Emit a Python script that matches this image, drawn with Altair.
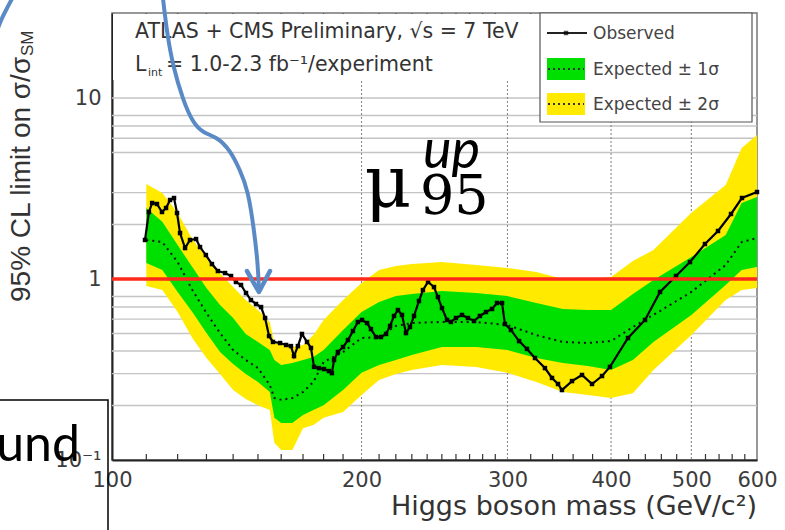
import altair as alt
import pandas as pd

# ---------------- data ----------------
# Observed 95% CL upper limit on sigma/sigma_SM versus Higgs mass (GeV)
OBS_MASS = [109.6, 110.8, 111.8, 113.3, 114.9, 116.2, 117.5, 118.8, 119.8, 120.8,
            122.5, 124.2, 126.3, 127.7, 129.8, 132.0, 134.2, 136.9, 139.2, 141.1,
            143.1, 145.1, 147.1, 149.2, 151.3, 153.0, 154.7, 156.4, 159.5, 162.2,
            164.4, 165.8, 167.6, 169.5, 171.9, 173.8, 175.3, 177.7, 180.2, 182.7,
            184.2, 185.3, 187.3, 190.0, 192.6, 195.3, 198.0, 200.3, 203.1, 205.3,
            208.2, 211.1, 214.1, 216.5, 218.9, 221.3, 223.8, 226.3, 228.8, 231.4,
            234.6, 237.2, 240.6, 244.6, 247.3, 250.1, 253.6, 256.4, 260.0, 264.4,
            268.8, 273.4, 277.9, 282.6, 287.4, 291.4, 295.5, 297.9, 302.9, 309.8,
            316.7, 323.8, 332.9, 339.5, 345.2, 349.0, 358.9, 369.0, 379.4, 390.1,
            398.8, 419.3, 439.6, 458.3, 479.1, 498.1, 519.2, 538.4, 558.2, 575.5, 600.0]
OBS_LIMIT = [1.643, 2.346, 2.630, 2.597, 2.346, 2.468, 2.733, 2.803, 2.316, 1.795,
             1.483, 1.643, 1.663, 1.502, 1.357, 1.210, 1.107, 1.079, 1.039, 0.963,
             0.927, 0.837, 0.765, 0.728, 0.700, 0.609, 0.484, 0.449, 0.443, 0.432,
             0.426, 0.375, 0.426, 0.497, 0.449, 0.416, 0.327, 0.322, 0.318, 0.310,
             0.302, 0.357, 0.395, 0.421, 0.460, 0.516, 0.579, 0.594, 0.571, 0.529,
             0.478, 0.478, 0.497, 0.550, 0.625, 0.674, 0.633, 0.503, 0.543, 0.625,
             0.756, 0.869, 0.963, 0.903, 0.795, 0.691, 0.594, 0.579, 0.609, 0.633,
             0.609, 0.586, 0.625, 0.657, 0.683, 0.737, 0.737, 0.564, 0.523, 0.454,
             0.411, 0.366, 0.322, 0.284, 0.263, 0.2435, 0.273, 0.295, 0.263, 0.291,
             0.327, 0.472, 0.594, 0.848, 1.039, 1.241, 1.561, 1.842, 2.287, 2.803, 3.025]

# Expected limit (median) with 1 sigma / 2 sigma bands
EXP_MASS = [110, 115, 120, 125, 130, 135, 140, 145, 150, 155, 157, 160, 165, 170,
            175, 180, 190, 200, 210, 220, 230, 250, 275, 300, 325, 350, 375, 400,
            425, 450, 500, 550, 575, 600]
EXP_MEDIAN = [1.64, 1.60, 1.24, 0.87, 0.649, 0.503, 0.405, 0.357, 0.322, 0.260, 0.220,
              0.215, 0.220, 0.2375, 0.270, 0.348, 0.395, 0.472, 0.478, 0.550, 0.571,
              0.579, 0.579, 0.557, 0.490, 0.449, 0.443, 0.454, 0.543, 0.633, 0.848,
              1.195, 1.60, 1.685]
EXP_1S_HI = [2.47, 2.07, 1.54, 1.165, 0.892, 0.718, 0.609, 0.497, 0.449, 0.405, 0.357,
             0.335, 0.343, 0.357, 0.371, 0.405, 0.523, 0.657, 0.746, 0.805, 0.826,
             0.858, 0.837, 0.805, 0.737, 0.683, 0.674, 0.674, 0.826, 0.987, 1.323,
             1.75, 2.63, 2.84]
EXP_1S_LO = [1.226, 1.121, 0.848, 0.657, 0.503, 0.395, 0.339, 0.299, 0.270, 0.2375, 0.171,
             0.160, 0.160, 0.177, 0.189, 0.201, 0.244, 0.303, 0.335, 0.357, 0.380,
             0.421, 0.421, 0.405, 0.366, 0.343, 0.331, 0.314, 0.357, 0.449, 0.633,
             0.927, 1.12, 1.165]
EXP_2S_HI = [3.35, 2.99, 2.32, 1.66, 1.32, 1.08, 0.903, 0.765, 0.674, 0.579, 0.443,
             0.432, 0.421, 0.432, 0.490, 0.594, 0.765, 0.950, 1.121, 1.18, 1.21,
             1.24, 1.195, 1.15, 1.093, 1.0, 1.0, 1.026, 1.257, 1.446, 2.32,
             3.31, 5.29, 6.25]
EXP_2S_LO = [0.915, 0.869, 0.657, 0.472, 0.366, 0.299, 0.244, 0.217, 0.201, 0.189, 0.124,
             0.1136, 0.1136, 0.150, 0.156, 0.171, 0.184, 0.229, 0.277, 0.299, 0.314,
             0.335, 0.326, 0.303, 0.270, 0.2375, 0.229, 0.220, 0.234, 0.314, 0.490,
             0.765, 0.869, 0.892]

# Axis furniture
X_LABELS = [100, 200, 300, 400, 500, 600]
Y_LABELS = [0.1, 1, 10]
GRID_X = [200, 300, 400, 500]
GRID_Y = [0.2, 0.3, 0.4, 0.5, 0.6, 0.7, 0.8, 1, 2, 3, 5, 6, 7, 8, 10]
MINOR_X = [110, 120, 130, 140, 150, 160, 170, 180, 190, 210, 220, 230, 240, 250, 260,
           270, 280, 290, 320, 340, 360, 380, 420, 440, 460, 480, 520, 540, 560, 580]

# Hand-drawn callout arrow (in mass / limit units)
ARROW_MASS = [115.2, 116.5, 118.5, 121.8, 125.2, 128.8, 133.9, 138.8, 142.7, 145.9,
              148.4, 150.0, 150.4]
ARROW_LIMIT = [35.7, 22.9, 14.84, 9.75, 7.28, 6.41, 6.09, 5.16, 4.00, 3.10,
               1.866, 1.195, 0.869]
HEAD_MASS = [145.5, 150.4, 155.1]
HEAD_LIMIT = [1.107, 0.848, 1.107]
CURL_MASS = [75.9, 74.6, 73.6, 72.9]
CURL_LIMIT = [36.0, 31.0, 27.5, 24.5]

# ---------------- layout ----------------
W, H = 645, 447
LEFT, TOP = 112, 13
YELLOW = "#ffea00"
GREEN = "#00e000"
RED = "#ff2a1a"
BLUE = "#5a8ac6"
INK = "#3c3c3c"
SANS = "DejaVu Sans"

xs = alt.Scale(type="log", domain=[100, 600], nice=False)
ys = alt.Scale(type="log", domain=[0.1, 29.5], nice=False)

x_axis = alt.Axis(values=X_LABELS, format="d", title=None, ticks=False, grid=False,
                  labelFont=SANS, labelFontSize=21, labelColor=INK, labelPadding=9,
                  domainColor="#222", domainWidth=2, labelFlush=False)
y_axis = alt.Axis(values=Y_LABELS, title=None, ticks=False, grid=False,
                  labelExpr="datum.value == 0.1 ? '10\u207b\u00b9' : format(datum.value, 'd')",
                  labelFont=SANS, labelFontSize=21, labelColor=INK, labelPadding=11,
                  domainColor="#222", domainWidth=2, labelFlush=False)


def X(field):
    return alt.X(field, type="quantitative", scale=xs, axis=x_axis)


def Y(field):
    return alt.Y(field, type="quantitative", scale=ys, axis=y_axis)


one = pd.DataFrame({"k": [0]})


def px(v):
    return v - LEFT


def py(v):
    return v - TOP


def box(x0, y0, x1, y1, **kw):
    return alt.Chart(one).mark_rect(**kw).encode(
        x=alt.value(px(x0)), x2=alt.value(px(x1)),
        y=alt.value(py(y0)), y2=alt.value(py(y1)))


def hline(x0, x1, y, **kw):
    return alt.Chart(one).mark_rule(**kw).encode(
        x=alt.value(px(x0)), x2=alt.value(px(x1)), y=alt.value(py(y)))


def text(txt, x, y, **kw):
    return alt.Chart(one).mark_text(**kw).encode(
        x=alt.value(px(x)), y=alt.value(py(y)), text=alt.value(txt))


bands = pd.DataFrame({
    "mass": EXP_MASS, "median": EXP_MEDIAN,
    "lo1": EXP_1S_LO, "hi1": EXP_1S_HI, "lo2": EXP_2S_LO, "hi2": EXP_2S_HI,
})
obs = pd.DataFrame({"mass": OBS_MASS, "limit": OBS_LIMIT})

grid_h = alt.Chart(pd.DataFrame({"v": GRID_Y})).mark_rule(
    color="#c4c4c4", strokeWidth=1.4).encode(y=Y("v"))
grid_v = alt.Chart(pd.DataFrame({"v": GRID_X})).mark_rule(
    color="#8a8a8a", strokeWidth=1.1, strokeDash=[2, 2]).encode(x=X("v"))

band2 = alt.Chart(bands).mark_area(color=YELLOW, opacity=1).encode(
    x=X("mass"), y=Y("lo2"), y2="hi2:Q")
band1 = alt.Chart(bands).mark_area(color=GREEN, opacity=1).encode(
    x=X("mass"), y=Y("lo1"), y2="hi1:Q")
median = alt.Chart(bands).mark_line(color="#111", strokeWidth=2, strokeDash=[2, 4]).encode(
    x=X("mass"), y=Y("median"))
observed = alt.Chart(obs).mark_line(
    color="#000", strokeWidth=2.2,
    point=alt.OverlayMarkDef(shape="square", size=20, filled=True, color="#000")).encode(
    x=X("mass"), y=Y("limit"))
unity = alt.Chart(one).mark_rule(color=RED, strokeWidth=3.5).encode(y=alt.datum(1))

minor_bottom = alt.Chart(pd.DataFrame({"v": MINOR_X})).mark_rule(
    color="#333", strokeWidth=1.2).encode(x=X("v"), y=alt.value(H), y2=alt.value(H - 6))
minor_top = alt.Chart(pd.DataFrame({"v": MINOR_X})).mark_rule(
    color="#555", strokeWidth=1.2).encode(x=X("v"), y=alt.value(0), y2=alt.value(6))

# header pave and legend box
header = box(LEFT + 1, TOP + 1, 539, 80, color="white")
legend_bg = box(540, TOP, 752, 122, fill="white", stroke="#555", strokeWidth=1.2)
leg_obs_line = hline(547, 587, 33, color="#222", strokeWidth=2)
leg_obs_pt = alt.Chart(one).mark_point(shape="square", size=20, filled=True, color="#000").encode(
    x=alt.value(px(566)), y=alt.value(py(33)))
leg_g = box(547, 58, 585, 80, color=GREEN)
leg_g_line = hline(548, 584, 69, color="#333", strokeWidth=2, strokeDash=[2, 3])
leg_y = box(547, 93, 585, 115, color=YELLOW)
leg_y_line = hline(548, 584, 104, color="#333", strokeWidth=2, strokeDash=[2, 3])
leg_txt_kw = dict(font=SANS, fontSize=17, color="#444", align="left", baseline="middle")
leg_t1 = text("Observed", 593, 34, **leg_txt_kw)
leg_t2 = text("Expected \u00b1 1\u03c3", 593, 70, **leg_txt_kw)
leg_t3 = text("Expected \u00b1 2\u03c3", 593, 105, **leg_txt_kw)

hdr_kw = dict(font=SANS, fontSize=20.5, color="#333", align="left", baseline="alphabetic")
hdr1 = text("ATLAS + CMS Preliminary, \u221as = 7 TeV", 135, 38, **hdr_kw)
hdr2a = text("L", 135, 71, **hdr_kw)
hdr2b = text("int", 148, 76, font=SANS, fontSize=11, color="#333", align="left",
             baseline="alphabetic")
hdr2c = text("= 1.0-2.3 fb\u207b\u00b9/experiment", 166, 71, **hdr_kw)

# axis titles
ytitle = text("95% CL limit on \u03c3/\u03c3", 22, 302, font="Liberation Sans", fontSize=28,
              color="#333", angle=270, align="left", baseline="middle")
ytitle_sub = text("SM", 28, 56, font="Liberation Sans", fontSize=17, color="#333",
                  angle=270, align="left", baseline="middle")
xtitle = text("Higgs boson mass (GeV/c\u00b2)", 757, 515, font=SANS, fontSize=27,
              color="#333", align="right", baseline="alphabetic")

# slide overlays
arrow = alt.Chart(pd.DataFrame({"mass": ARROW_MASS, "limit": ARROW_LIMIT,
                                "i": range(len(ARROW_MASS))})).mark_line(
    color=BLUE, strokeWidth=4, interpolate="basis", strokeCap="round").encode(
    x=X("mass"), y=Y("limit"), order="i:O")
arrow_head = alt.Chart(pd.DataFrame({"mass": HEAD_MASS, "limit": HEAD_LIMIT,
                                     "i": range(3)})).mark_line(
    color=BLUE, strokeWidth=4.5, strokeCap="round", strokeJoin="round").encode(
    x=X("mass"), y=Y("limit"), order="i:O")
curl = alt.Chart(pd.DataFrame({"mass": CURL_MASS, "limit": CURL_LIMIT,
                               "i": range(len(CURL_MASS))})).mark_line(
    color=BLUE, strokeWidth=4, interpolate="basis").encode(
    x=X("mass"), y=Y("limit"), order="i:O")

mu = text("\u03bc", 388, 207, font="DejaVu Serif", fontSize=72, color="#000",
          align="center", baseline="alphabetic")
mu_up = text("up", 423, 168, font="Lato", fontSize=54, fontStyle="italic", color="#000",
             align="left", baseline="alphabetic")
mu_95 = text("95", 420, 214, font="DejaVu Serif", fontSize=54, color="#000",
             align="left", baseline="alphabetic")

und_box = box(-2, 400, 108, 533, fill=None, fillOpacity=0, stroke="#000", strokeWidth=1.5)
und = text("und", 80, 461, font="Lato", fontSize=50, color="#000", align="right",
           baseline="alphabetic")

chart = alt.layer(
    grid_h, grid_v, band2, band1, median, observed, unity, minor_bottom, minor_top,
    header, legend_bg, leg_g, leg_y, leg_g_line, leg_y_line, leg_obs_line, leg_obs_pt,
    leg_t1, leg_t2, leg_t3, hdr1, hdr2a, hdr2b, hdr2c,
    ytitle, ytitle_sub, xtitle,
    arrow, arrow_head, curl, mu, mu_up, mu_95, und_box, und,
).properties(
    width=W, height=H,
    autosize=alt.AutoSizeParams(type="none"),
    padding={"left": LEFT, "top": TOP, "right": 785 - LEFT - W, "bottom": 530 - TOP - H},
).configure_view(stroke="#777", strokeWidth=1.5)

chart.save("out.html", embed_options={"renderer": "svg", "actions": False})
